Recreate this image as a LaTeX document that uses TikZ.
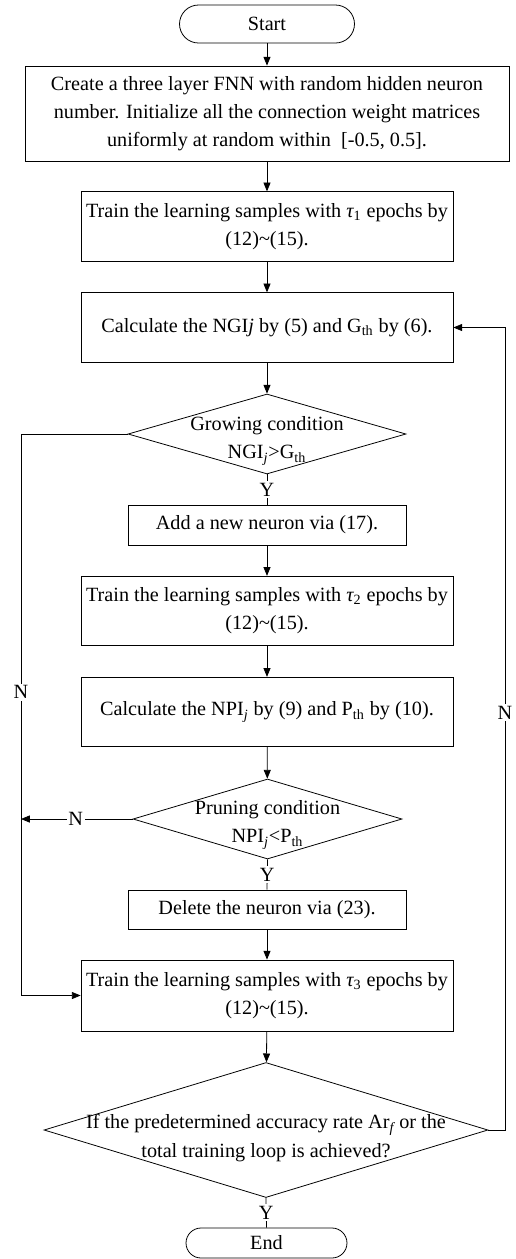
\documentclass[tikz,border=0pt]{standalone}
\usepackage{fontspec}
\setmainfont{Liberation Serif}
\usetikzlibrary{arrows.meta, positioning, shapes.geometric}

\begin{document}
\begin{tikzpicture}[x=0.02cm, y=-0.02cm, line width=0.45pt,
    every node/.style={font=\fontsize{11.5}{16}\selectfont},
    terminal/.style={draw, rectangle, rounded corners=0.38cm, minimum width=3.5cm, minimum height=0.76cm},
    procbox/.style={draw, rectangle, align=center, minimum width=7.44cm, minimum height=1.39cm, inner sep=2pt},
    decision/.style={draw, diamond, inner sep=0pt},
    lbl/.style={fill=white, inner sep=1pt},
    flow/.style={-{Triangle[length=5pt, width=4pt]}}]
    \useasboundingbox (0,0) rectangle (515,1259);

    \node[terminal] (start) at (267,24) {Start};
    \node[procbox, minimum width=9.68cm, minimum height=1.9cm] (create) at (267,113.5)
      {Create a three layer FNN with random hidden neuron\\
       number. Initialize all the connection weight matrices\\
       uniformly at random within\ \ [-0.5, 0.5].};
    \node[procbox] (trainA) at (267,226.5)
      {Train the learning samples with {\itshape τ}\textsubscript{1} epochs by\\(12)\textasciitilde(15).};
    \node[procbox] (calcG) at (267,327.5)
      {Calculate the NGI\textit{j} by (5) and G\textsubscript{th} by (6).};
    \node[decision, minimum width=5.56cm, minimum height=1.6cm] (grow) at (267,434) {};
    \node[align=center] (growtxt) at (267,441)
      {Growing condition\\NGI\textsubscript{\itshape j}>G\textsubscript{th}};
    \node[procbox, minimum width=5.56cm, minimum height=0.8cm] (addn) at (267,525)
      {Add a new neuron via (17).};
    \node[procbox] (trainB) at (267,611)
      {Train the learning samples with {\itshape τ}\textsubscript{2} epochs by\\(12)\textasciitilde(15).};
    \node[procbox] (calcP) at (267,712)
      {Calculate the NPI\textsubscript{\itshape j} by (9) and P\textsubscript{th} by (10).};
    \node[decision, minimum width=5.38cm, minimum height=1.6cm] (prune) at (267.5,819) {};
    \node[align=center] (prunetxt) at (267.5,825)
      {Pruning condition\\NPI\textsubscript{\itshape j}<P\textsubscript{th}};
    \node[procbox, minimum width=5.56cm, minimum height=0.78cm] (delete) at (267,909.5)
      {Delete the neuron via (23).};
    \node[procbox, minimum height=1.42cm] (trainC) at (267,995.5)
      {Train the learning samples with {\itshape τ}\textsubscript{3} epochs by\\(12)\textasciitilde(15).};
    \node[decision, minimum width=8.88cm, minimum height=2.7cm] (check) at (266,1130) {};
    \node[align=center] (checktxt) at (266,1138)
      {If the predetermined accuracy rate Ar\textsubscript{\itshape f} or the\\total training loop is achieved?};
    \node[terminal, minimum width=3.22cm, minimum height=0.6cm, rounded corners=0.3cm] (end) at (266.5,1243) {End};

    \foreach \a/\b in {start/create, create/trainA, trainA/calcG, calcG/grow,
                       addn/trainB, trainB/calcP, calcP/prune, delete/trainC, trainC/check}
      \draw[flow] (\a) -- (\b);

    \draw (grow.south) -- node[lbl] {Y} (addn.north);
    \draw (prune.south) -- node[lbl] {Y} (delete.north);
    \draw (check.south) -- node[lbl] {Y} (end.north);

    \coordinate (nl) at (21,434);
    \coordinate (nb) at (21,995.5);
    \coordinate (nr) at (505,1130);
    \coordinate (nt) at (505,327.5);
    \draw[flow] (grow.west) -- (nl) -- node[lbl, pos=0.46] {N} (nb) -- (trainC.west);
    \draw[flow] (prune.west) -- node[lbl, pos=0.51] {N} (prune.west -| nl);
    \draw[flow] (check.east) -- (nr) -- node[lbl, pos=0.52] {N} (nt) -- (calcG.east);
  \end{tikzpicture}
\end{document}
